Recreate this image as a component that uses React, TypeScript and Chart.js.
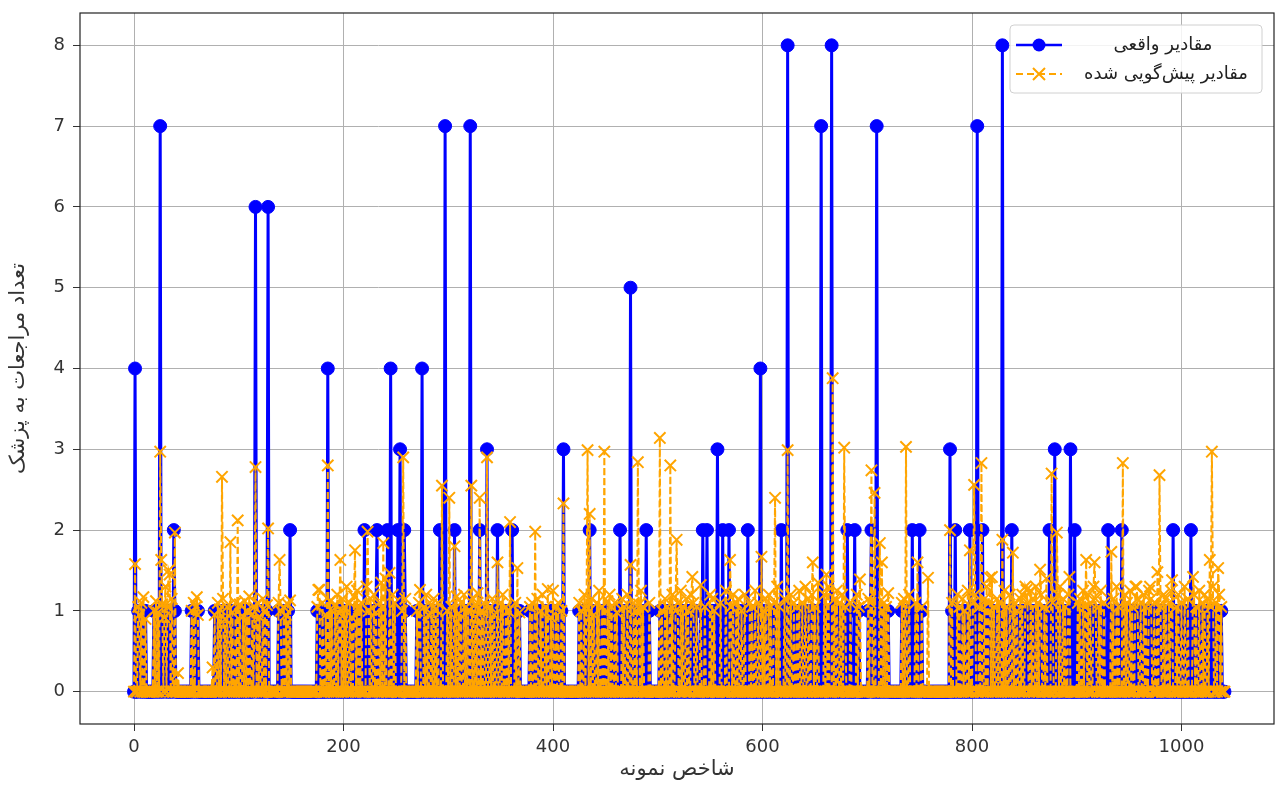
import React, { useEffect, useRef } from "react";
import { Chart, registerables } from "chart.js";

Chart.register(...registerables);

// ---------- data ----------
const sampleCount = 1042;

const actualOneIdx = [
  4, 5, 7, 9, 11, 19, 21, 23, 27, 29, 30, 32, 34, 36, 39,
  55, 57, 59, 61,
  77, 80, 82, 85, 87, 89, 92, 94, 97, 99, 101, 104, 106, 108, 110, 113, 115, 118, 120, 123, 125, 127,
  138, 140, 143, 145, 147,
  175, 177, 180, 183, 187, 189, 192, 194, 196, 199, 201, 203, 206, 208, 210, 213, 215, 217, 222, 224, 226, 229, 231, 234, 236, 238, 240, 247, 249, 256, 259,
  270, 272, 277, 279, 281, 284, 286, 288, 290, 294, 299, 301, 303, 308, 310, 312, 315, 317, 319, 324, 326, 328, 332, 334, 340, 342, 344, 350, 352, 355, 357, 359, 364, 366, 368,
  378, 380, 383, 385, 388, 390, 393, 395, 398, 400, 403, 405, 408,
  425, 427, 430, 432, 437, 439, 442, 444, 447, 449, 452, 454, 456, 459, 461, 466, 468, 471, 477, 479, 482, 484, 486, 492, 502, 504, 507, 509, 512, 514, 517, 519, 522, 524, 527, 529, 532, 534, 537,
  541, 545, 550, 552, 554, 560, 565, 570, 572, 575, 577, 580, 583, 588, 590, 593, 596, 601, 603, 606, 608, 611, 614, 616, 621, 627, 630, 633, 635, 638, 641, 644, 647, 650, 653, 659, 661, 663, 669, 671, 674, 676, 679,
  684, 690, 692, 701, 703, 707, 712, 714, 716, 718, 720, 733, 735, 737, 740, 746, 748, 752,
  781, 786, 788, 791, 793, 796, 801, 803, 807, 812, 814, 816, 819, 821, 824, 826, 831, 833, 836, 841, 843, 846, 848, 851, 853, 856, 858, 861, 863, 866, 869, 871, 877, 882, 884, 887, 889, 892, 901, 903, 906, 908, 911, 913, 916, 918, 921, 923, 926, 933, 935, 938, 940, 946, 948, 951, 953, 956, 958, 961, 964, 966, 969, 971, 974, 977, 980, 983, 985, 988, 990, 995, 997, 1000, 1003, 1006, 1012, 1014, 1017, 1020, 1022, 1025, 1028, 1030, 1033, 1036, 1038,
];

const predAtOnes = [
  1.05, 0.95, 1.1, 1.17, 0.9, 1.0, 1.12, 0.98, 1.08, 0.92, 1.3, 1.05, 1.45, 1.15, 1.0,
  1.0, 1.1, 1.05, 0.95,
  0.95, 1.1, 1.02, 1.15, 0.9, 1.05, 1.2, 0.98, 1.1, 1.0, 1.08, 0.93, 1.12, 1.0, 1.18, 0.96, 1.05, 1.1, 0.92, 1.15, 1.0, 1.07,
  1.1, 1.0, 1.05, 0.95, 1.08,
  1.05, 1.26, 1.1, 0.95, 1.12, 1.0, 1.08, 1.2, 0.97, 1.15, 1.05, 1.3, 1.1, 0.92, 1.18, 1.25, 1.05, 1.1, 1.3, 1.0, 1.15, 1.2, 0.98, 1.1, 1.35, 1.05, 1.4, 1.2, 1.1, 1.0, 1.15,
  1.0, 1.1, 1.05, 1.2, 0.95, 1.08, 1.15, 1.02, 1.1, 1.25, 1.0, 1.12, 1.05, 1.18, 0.97, 1.1, 1.2, 1.05, 1.0, 1.15, 1.08, 1.22, 1.0, 1.1, 1.05, 1.15, 0.95, 1.1, 1.2, 1.05, 1.0, 1.12, 1.1, 1.05, 0.98,
  1.05, 1.1, 0.95, 1.15, 1.0, 1.2, 1.05, 1.1, 0.92, 1.25, 1.05, 1.1, 1.0,
  1.1, 1.0, 1.2, 1.05, 1.15, 0.95, 1.1, 1.25, 1.05, 1.0, 1.12, 1.2, 1.05, 1.1, 0.98, 1.15, 1.05, 1.2, 1.1, 1.0, 1.08, 1.25, 1.05, 1.1, 1.2, 1.0, 1.15, 1.05, 1.1, 1.2, 1.0, 1.1, 1.25, 1.05, 1.15, 1.0, 1.2, 1.1, 1.05,
  1.1, 1.05, 1.2, 1.15, 1.0, 1.1, 1.25, 1.05, 1.2, 1.1, 1.15, 1.0, 1.2, 1.1, 1.05, 1.25, 1.1, 1.0, 1.15, 1.2, 1.05, 1.1, 1.3, 1.05, 1.15, 1.2, 1.1, 1.05, 1.25, 1.1, 1.3, 1.15, 1.2, 1.05, 1.35, 1.2, 1.45, 1.3, 1.15, 1.25, 1.1, 1.2, 1.05,
  1.1, 1.2, 1.05, 1.15, 1.1, 1.25, 1.2, 1.3, 1.1, 1.05, 1.22, 1.1, 1.15, 1.05, 1.2, 1.1, 1.3, 1.05,
  1.1, 1.2, 1.05, 1.15, 1.0, 1.25, 1.1, 1.2, 1.05, 1.15, 1.3, 1.1, 1.2, 1.05, 1.15, 1.1, 1.25, 1.05, 1.2, 1.1, 1.0, 1.15, 1.2, 1.3, 1.1, 1.25, 1.15, 1.3, 1.1, 1.2, 1.05, 1.4, 1.1, 1.2, 1.3, 1.15, 1.05, 1.2, 1.1, 1.15, 1.25, 1.05, 1.2, 1.1, 1.3, 1.15, 1.05, 1.25, 1.1, 1.2, 1.15, 1.3, 1.05, 1.2, 1.1, 1.25, 1.05, 1.3, 1.15, 1.1, 1.2, 1.05, 1.25, 1.15, 1.1, 1.3, 1.05, 1.2, 1.15, 1.1, 1.25, 1.05, 1.2, 1.1, 1.3, 1.15, 1.2, 1.05, 1.25, 1.1, 1.2, 1.15, 1.05, 1.3, 1.1, 1.2, 1.05,
];

const actualHighIdx = [
  1, 25, 38, 116, 128, 149, 185, 220, 232, 242, 245, 252, 254, 258, 275, 292, 297, 306, 321, 330, 337, 347, 361,
  410, 435, 464, 474, 489, 543, 547, 557, 562, 568, 586, 598, 618, 624, 656, 666, 681, 688, 704, 709, 743, 750,
  779, 784, 798, 805, 810, 829, 838, 874, 879, 894, 898, 930, 943, 992, 1009,
];
const actualHighVal = [
  4, 7, 2, 6, 6, 2, 4, 2, 2, 2, 4, 2, 3, 2, 4, 2, 7, 2, 7, 2, 3, 2, 2,
  3, 2, 2, 5, 2, 2, 2, 3, 2, 2, 2, 4, 2, 8, 7, 8, 2, 2, 2, 7, 2, 2,
  3, 2, 2, 7, 2, 8, 2, 2, 3, 3, 2, 2, 2, 2, 2,
];

const predPeakIdx = [
  1, 9, 25, 26, 33, 39, 42, 60, 75, 84, 92, 99, 116, 128, 139, 149, 176, 185, 197, 211, 223, 238, 244, 257,
  273, 294, 301, 306, 322, 330, 337, 347, 359, 366, 383, 395, 410, 433, 435, 449, 474, 481, 502, 512, 518, 533,
  541, 569, 599, 612, 624, 648, 667, 678, 693, 704, 707, 712, 714, 720, 737, 748, 758, 779, 798, 802, 809, 817,
  819, 829, 839, 852, 865, 876, 881, 893, 909, 917, 933, 944, 957, 970, 977, 979, 991, 1011, 1027, 1029, 1035,
];
const predPeakVal = [
  1.58, 1.17, 2.97, 1.63, 1.5, 1.97, 0.23, 1.17, 0.3, 2.66, 1.85, 2.12, 2.78, 2.02, 1.63, 1.13, 1.26, 2.8, 1.63, 1.75, 1.98, 1.84, 1.47, 2.9,
  1.26, 2.55, 2.4, 1.8, 2.55, 2.4, 2.9, 1.6, 2.1, 1.53, 1.98, 1.27, 2.33, 2.99, 2.2, 2.97, 1.57, 2.84, 3.14, 2.8, 1.88, 1.42,
  1.32, 1.63, 1.67, 2.4, 2.99, 1.6, 3.88, 3.02, 1.39, 2.74, 2.46, 1.84, 1.6, 1.22, 3.03, 1.6, 1.41, 2.0, 1.75, 2.56, 2.83, 1.41,
  1.42, 1.88, 1.72, 1.26, 1.51, 2.7, 1.97, 1.42, 1.63, 1.6, 1.73, 2.83, 1.3, 1.3, 1.48, 2.68, 1.38, 1.42, 1.63, 2.97, 1.53,
];

const xTickValues = [0, 200, 400, 600, 800, 1000];
const yTickValues = [0, 1, 2, 3, 4, 5, 6, 7, 8];

const labelActual = "مقادیر واقعی";
const labelPredicted = "مقادیر پیش‌گویی شده";
const xTitle = "شاخص نمونه";
const yTitle = "تعداد مراجعات به پزشک";

// ---------- build series ----------
const actualSeries: number[] = new Array(sampleCount).fill(0);
actualOneIdx.forEach((i) => (actualSeries[i] = 1));
actualHighIdx.forEach((i, k) => (actualSeries[i] = actualHighVal[k]));

const predictedSeries: number[] = new Array(sampleCount).fill(0);
actualOneIdx.forEach((i, k) => (predictedSeries[i] = predAtOnes[k] ?? 0));
predPeakIdx.forEach((i, k) => (predictedSeries[i] = predPeakVal[k]));

const BLUE = "#0000ff";
const ORANGE = "#ffa500";

const framePlugin = {
  id: "frame",
  afterDatasetsDraw(chart: any) {
    const { ctx, chartArea } = chart;
    ctx.save();
    ctx.strokeStyle = "#222";
    ctx.lineWidth = 1.2;
    ctx.strokeRect(chartArea.left, chartArea.top, chartArea.right - chartArea.left, chartArea.bottom - chartArea.top);
    ctx.restore();
  },
};

const legendPlugin = {
  id: "mplLegend",
  afterDraw(chart: any) {
    const ctx = chart.ctx as CanvasRenderingContext2D;
    const x0 = 1010, y0 = 25, w = 252, h = 68, r = 4;
    ctx.save();
    ctx.beginPath();
    ctx.moveTo(x0 + r, y0);
    ctx.lineTo(x0 + w - r, y0);
    ctx.quadraticCurveTo(x0 + w, y0, x0 + w, y0 + r);
    ctx.lineTo(x0 + w, y0 + h - r);
    ctx.quadraticCurveTo(x0 + w, y0 + h, x0 + w - r, y0 + h);
    ctx.lineTo(x0 + r, y0 + h);
    ctx.quadraticCurveTo(x0, y0 + h, x0, y0 + h - r);
    ctx.lineTo(x0, y0 + r);
    ctx.quadraticCurveTo(x0, y0, x0 + r, y0);
    ctx.closePath();
    ctx.fillStyle = "rgba(255,255,255,0.85)";
    ctx.fill();
    ctx.strokeStyle = "#d0d0d0";
    ctx.lineWidth = 1;
    ctx.stroke();

    const row1 = 45, row2 = 74;
    ctx.strokeStyle = BLUE;
    ctx.lineWidth = 2.5;
    ctx.beginPath();
    ctx.moveTo(1016, row1);
    ctx.lineTo(1062, row1);
    ctx.stroke();
    ctx.fillStyle = BLUE;
    ctx.beginPath();
    ctx.arc(1039, row1, 6.5, 0, Math.PI * 2);
    ctx.fill();

    ctx.strokeStyle = ORANGE;
    ctx.lineWidth = 2;
    ctx.setLineDash([7, 4]);
    ctx.beginPath();
    ctx.moveTo(1016, row2);
    ctx.lineTo(1062, row2);
    ctx.stroke();
    ctx.setLineDash([]);
    ctx.beginPath();
    ctx.moveTo(1033, row2 - 6);
    ctx.lineTo(1045, row2 + 6);
    ctx.moveTo(1045, row2 - 6);
    ctx.lineTo(1033, row2 + 6);
    ctx.stroke();

    ctx.fillStyle = "#222";
    ctx.font = "18px 'DejaVu Sans'";
    ctx.textAlign = "center";
    ctx.textBaseline = "middle";
    ctx.fillText(labelActual, 1163, row1);
    ctx.fillText(labelPredicted, 1166, row2);
    ctx.restore();
  },
};

export default function App() {
  const canvasRef = useRef<HTMLCanvasElement | null>(null);

  useEffect(() => {
    document.body.style.margin = "0";
    const canvas = canvasRef.current;
    if (!canvas) return;
    const pxPerX = 1.0475;
    const xMin = (80 - 134) / pxPerX;
    const xMax = xMin + (1274 - 80) / pxPerX;

    const chart = new Chart(canvas, {
      type: "line",
      data: {
        datasets: [
          {
            label: labelActual,
            data: actualSeries.map((v, i) => ({ x: i, y: v })),
            borderColor: BLUE,
            backgroundColor: BLUE,
            borderWidth: 3,
            pointRadius: 6.5,
            pointStyle: "circle",
            pointBackgroundColor: BLUE,
            pointBorderColor: BLUE,
            pointBorderWidth: 1,
            tension: 0,
            order: 1,
          },
          {
            label: labelPredicted,
            data: predictedSeries.map((v, i) => ({ x: i, y: v })),
            borderColor: ORANGE,
            backgroundColor: ORANGE,
            borderWidth: 2,
            borderDash: [7, 3],
            pointRadius: 8,
            pointStyle: "crossRot",
            pointBorderColor: ORANGE,
            pointBorderWidth: 2,
            tension: 0,
            order: 0,
          },
        ],
      },
      options: {
        animation: false,
        responsive: false,
        events: [],
        layout: { autoPadding: false, padding: { left: 0, right: 1, top: 13, bottom: 0 } },
        plugins: {
          legend: { display: false },
          tooltip: { enabled: false },
        },
        scales: {
          x: {
            type: "linear",
            min: xMin,
            max: xMax,
            afterFit: (s: any) => {
              s.height = 61;
              s.paddingLeft = 0;
              s.paddingRight = 0;
            },
            afterBuildTicks: (s: any) => {
              s.ticks = xTickValues.map((v) => ({ value: v }));
            },
            ticks: {
              color: "#333",
              font: { family: "'DejaVu Sans'", size: 18 },
              padding: 6,
              maxRotation: 0,
              autoSkip: false,
              callback: (v: any) => String(v),
            },
            grid: { color: "#b0b0b0", lineWidth: 1, tickColor: "#333", tickLength: 7 },
            border: { display: false },
            title: {
              display: true,
              text: xTitle,
              color: "#333",
              font: { family: "'DejaVu Sans'", size: 21 },
              padding: { top: 0, bottom: 3 },
            },
          },
          y: {
            type: "linear",
            min: -0.4,
            max: 8.4,
            afterFit: (s: any) => {
              s.width = 80;
              s.paddingTop = 0;
              s.paddingBottom = 0;
            },
            afterBuildTicks: (s: any) => {
              s.ticks = yTickValues.map((v) => ({ value: v }));
            },
            ticks: {
              color: "#333",
              font: { family: "'DejaVu Sans'", size: 18 },
              padding: 8,
              callback: (v: any) => String(v),
            },
            grid: { color: "#b0b0b0", lineWidth: 1, tickColor: "#333", tickLength: 7 },
            border: { display: false },
            title: {
              display: true,
              text: yTitle,
              color: "#333",
              font: { family: "'DejaVu Sans'", size: 21 },
              padding: { top: 6, bottom: 0 },
            },
          },
        },
      },
      plugins: [framePlugin, legendPlugin],
    } as any);

    return () => chart.destroy();
  }, []);

  return (
    <div style={{ width: 1275, height: 785, position: "relative", overflow: "hidden", background: "#fff" }}>
      <canvas ref={canvasRef} width={1275} height={785} style={{ display: "block", width: 1275, height: 785 }} />
    </div>
  );
}
